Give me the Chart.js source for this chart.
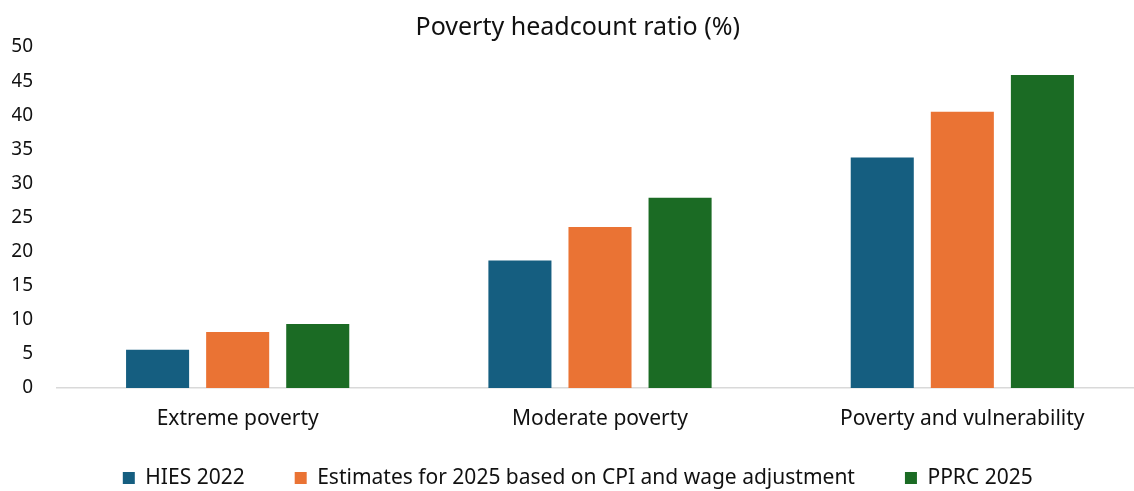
<!DOCTYPE html>
<html>
<head>
<meta charset="utf-8">
<title>Poverty headcount ratio</title>
<script src="https://cdn.jsdelivr.net/npm/chart.js@4/dist/chart.umd.min.js"></script>
<style>
    html, body {
        margin: 0;
        padding: 0;
        background: #fff;
        overflow: hidden;
    }
    #wrap {
        width: 1156px;
        height: 491px;
    }
</style>
</head>
<body>
<div id="wrap"><canvas id="povertyChart"></canvas></div>
<script>
const categories = ['Extreme poverty', 'Moderate poverty', 'Poverty and vulnerability'];
const hies2022 = [5.6, 18.7, 33.8];
const estimates2025 = [8.2, 23.6, 40.5];
const pprc2025 = [9.4, 27.9, 45.9];
const seriesNames = ['HIES 2022', 'Estimates for 2025 based on CPI and wage adjustment', 'PPRC 2025'];
const yTicks = [0, 5, 10, 15, 20, 25, 30, 35, 40, 45, 50];

const colors = ['#155e80', '#ea7334', '#1b6b24'];
const font = 'Noto Sans';
const textColor = '#111';

function barDataset(label, values, color) {
    return {
        label: label,
        data: values,
        backgroundColor: color,
        borderWidth: 0,
        categoryPercentage: 0.663,
        barPercentage: 0.7875
    };
}

const data = {
    labels: categories,
    datasets: [
        barDataset(seriesNames[0], hies2022, colors[0]),
        barDataset(seriesNames[1], estimates2025, colors[1]),
        barDataset(seriesNames[2], pprc2025, colors[2])
    ]
};

// the x axis box is kept short so the legend can sit close under it;
// widen its clip area again so the category labels are not cut off
const labelRoom = {
    id: 'labelRoom',
    afterLayout(chart) {
        const x = chart.scales.x;
        x.bottom = x.top + 50;
    }
};

const ctx = document.getElementById('povertyChart').getContext('2d');
const povertyChart = new Chart(ctx, {
    type: 'bar',
    data: data,
    plugins: [labelRoom],
    options: {
        responsive: true,
        maintainAspectRatio: false,
        animation: false,
        layout: {
            padding: { left: 12, right: 12.5, top: 0, bottom: -7.5 }
        },
        plugins: {
            title: {
                display: true,
                text: 'Poverty headcount ratio (%)',
                color: textColor,
                font: { family: font, size: 25, weight: 'normal' },
                padding: { top: 13, bottom: 4 }
            },
            legend: {
                position: 'bottom',
                labels: {
                    color: textColor,
                    font: { family: font, size: 21 },
                    boxWidth: 12,
                    boxHeight: 12,
                    padding: 50
                }
            },
            tooltip: { enabled: false }
        },
        scales: {
            x: {
                grid: { display: false, drawTicks: false },
                border: { display: true, color: '#d9d9d9', width: 1.5 },
                ticks: {
                    color: textColor,
                    font: { family: font, size: 21 },
                    padding: 18.4
                },
                afterFit: (axis) => {
                    axis.height = 29.5;
                }
            },
            y: {
                min: 0,
                max: 50,
                afterBuildTicks: (axis) => {
                    axis.ticks = yTicks.map(v => ({ value: v }));
                },
                afterFit: (axis) => {
                    axis.width = 44.5;
                },
                grid: { display: false, drawTicks: false },
                border: { display: false },
                ticks: {
                    color: textColor,
                    font: { family: font, size: 19 },
                    padding: 23.5
                }
            }
        }
    }
});
</script>
</body>
</html>
